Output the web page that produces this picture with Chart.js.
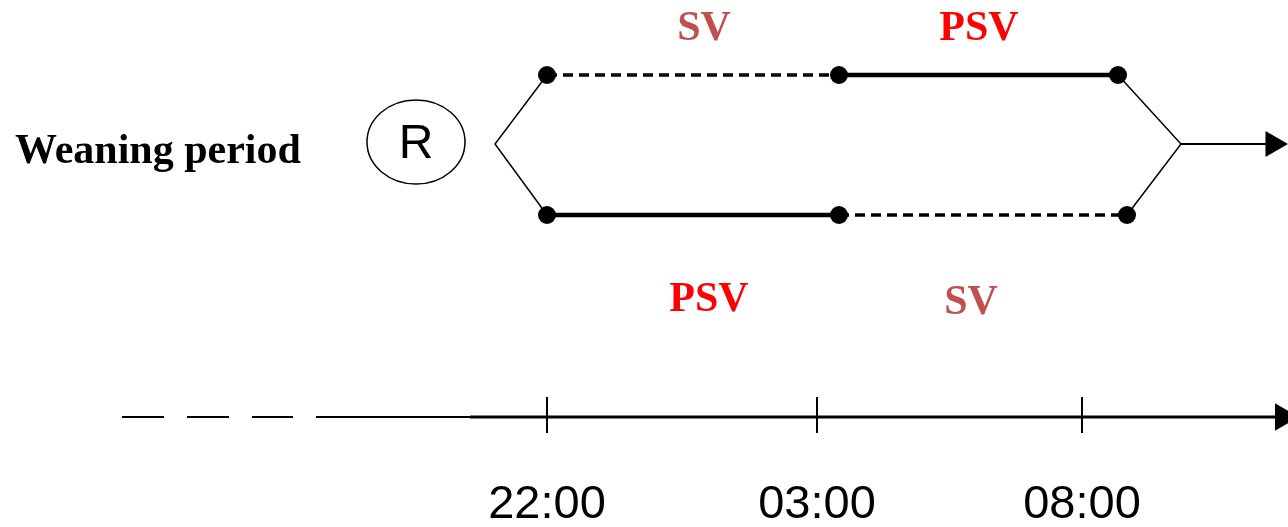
<!DOCTYPE html>
<html>
<head>
<meta charset="utf-8">
<script src="https://cdn.jsdelivr.net/npm/chart.js@4/dist/chart.umd.min.js"></script>
<style>
  html, body { margin: 0; padding: 0; background: #fff; }
  #wrap { width: 1288px; height: 527px; }
</style>
</head>
<body>
<div id="wrap"><canvas id="chart" width="1288" height="527"></canvas></div>
<script>
// diagram values, in picture units (x: 0..1288, y: 0..527 from top)
const splitX = 495;
const joinX = 1181;
const arrowEndX = 1273;
const midY = 144;
const upperY = 75;
const lowerY = 215;
const upperDots = [547, 839, 1118];   // SV (dashed) then PSV (solid)
const lowerDots = [547, 839, 1127];   // PSV (solid) then SV (dashed)

const topLabels = ['SV', 'PSV'];
const topLabelX = [704, 979];
const topLabelY = [29, 29];
const bottomLabels = ['PSV', 'SV'];
const bottomLabelX = [709, 971];
const bottomLabelY = [300, 303];
const labelColors = { SV: '#C0504D', PSV: '#FF0000' };

const timeLabels = ['22:00', '03:00', '08:00'];
const timeTickX = [547, 817, 1082];
const timelineY = 417;
const timelineDashes = [[122, 164], [187, 229], [252, 293]];
const timelineThin = [316, 470];
const timelineEnd = 1283;

const rCircle = { x: 416, y: 142, label: 'R' };
const rowTitle = 'Weaning period';

const pt = (x, y) => ({ x, y });

const datasets = [];

// branch lines (thin)
datasets.push({
  data: [pt(upperDots[0], upperY), pt(splitX, midY), pt(lowerDots[0], lowerY)],
  borderColor: '#000', borderWidth: 1.5, pointRadius: 0
});
datasets.push({
  data: [pt(upperDots[2], upperY), pt(joinX, midY), pt(lowerDots[2], lowerY)],
  borderColor: '#000', borderWidth: 1.5, pointRadius: 0
});
// output arrow
datasets.push({
  data: [pt(joinX, midY), pt(arrowEndX, midY)],
  borderColor: '#000', borderWidth: 2,
  pointRadius: [0, 15], pointStyle: 'triangle', pointRotation: 90,
  pointBackgroundColor: '#000', pointBorderWidth: 0
});
// upper path: SV dashed, PSV solid
datasets.push({
  data: [pt(upperDots[0], upperY), pt(upperDots[1], upperY)],
  borderColor: '#000', borderWidth: 3.5, borderDash: [10, 6], pointRadius: 0
});
datasets.push({
  data: [pt(upperDots[1], upperY), pt(upperDots[2], upperY)],
  borderColor: '#000', borderWidth: 4.5, pointRadius: 0
});
// lower path: PSV solid, SV dashed
datasets.push({
  data: [pt(lowerDots[0], lowerY), pt(lowerDots[1], lowerY)],
  borderColor: '#000', borderWidth: 4.5, pointRadius: 0
});
datasets.push({
  data: [pt(lowerDots[1], lowerY), pt(lowerDots[2], lowerY)],
  borderColor: '#000', borderWidth: 3.5, borderDash: [10, 6], pointRadius: 0
});
// dots
datasets.push({
  showLine: false,
  data: upperDots.map(x => pt(x, upperY)).concat(lowerDots.map(x => pt(x, lowerY))),
  pointRadius: 9, pointBackgroundColor: '#000', pointBorderWidth: 0
});

// timeline
timelineDashes.forEach(d => {
  datasets.push({
    data: [pt(d[0], timelineY), pt(d[1], timelineY)],
    borderColor: '#000', borderWidth: 2, pointRadius: 0
  });
});
datasets.push({
  data: [pt(timelineThin[0], timelineY), pt(timelineThin[1], timelineY)],
  borderColor: '#000', borderWidth: 2, pointRadius: 0
});
datasets.push({
  data: [pt(timelineThin[1], timelineY), pt(timelineEnd, timelineY)],
  borderColor: '#000', borderWidth: 2.8,
  pointRadius: [0, 16], pointStyle: 'triangle', pointRotation: 90,
  pointBackgroundColor: '#000', pointBorderWidth: 0
});
datasets.push({
  showLine: false,
  data: timeTickX.map(x => pt(x, timelineY - 2)),
  pointStyle: 'line', pointRotation: 90, pointRadius: 18,
  pointBorderColor: '#000', pointBorderWidth: 2
});

datasets.forEach(d => { d.clip = false; if (d.showLine === undefined) d.showLine = true; });

const textPlugin = {
  id: 'diagramText',
  afterDatasetsDraw(chart) {
    const { ctx, scales: { x, y } } = chart;
    ctx.save();
    ctx.textAlign = 'center';
    ctx.textBaseline = 'middle';

    // R ellipse
    ctx.beginPath();
    ctx.ellipse(x.getPixelForValue(rCircle.x), y.getPixelForValue(rCircle.y), 49, 42, 0, 0, Math.PI * 2);
    ctx.lineWidth = 1.5;
    ctx.strokeStyle = '#000';
    ctx.stroke();
    ctx.fillStyle = '#000';
    ctx.font = '48px "Liberation Sans", Arial, sans-serif';
    ctx.fillText(rCircle.label, x.getPixelForValue(rCircle.x), y.getPixelForValue(rCircle.y) + 3);

    // row title
    ctx.font = 'bold 42px "Liberation Serif", "Times New Roman", serif';
    ctx.textAlign = 'left';
    ctx.fillText(rowTitle, x.getPixelForValue(15), y.getPixelForValue(152));
    ctx.textAlign = 'center';

    // phase labels
    topLabels.forEach((t, i) => {
      ctx.fillStyle = labelColors[t];
      ctx.fillText(t, x.getPixelForValue(topLabelX[i]), y.getPixelForValue(topLabelY[i]));
    });
    bottomLabels.forEach((t, i) => {
      ctx.fillStyle = labelColors[t];
      ctx.fillText(t, x.getPixelForValue(bottomLabelX[i]), y.getPixelForValue(bottomLabelY[i]));
    });

    // time labels
    ctx.fillStyle = '#000';
    ctx.font = '47px "Liberation Sans", Arial, sans-serif';
    timeLabels.forEach((t, i) => {
      ctx.fillText(t, x.getPixelForValue(timeTickX[i]), y.getPixelForValue(505));
    });
    ctx.restore();
  }
};

new Chart(document.getElementById('chart'), {
  type: 'scatter',
  data: { datasets },
  options: {
    responsive: false,
    devicePixelRatio: 1,
    animation: false,
    layout: { padding: 0, autoPadding: false },
    plugins: { legend: { display: false }, tooltip: { enabled: false } },
    scales: {
      x: { type: 'linear', min: 0, max: 1288, display: false },
      y: { type: 'linear', min: 0, max: 527, reverse: true, display: false }
    }
  },
  plugins: [textPlugin]
});
</script>
</body>
</html>
